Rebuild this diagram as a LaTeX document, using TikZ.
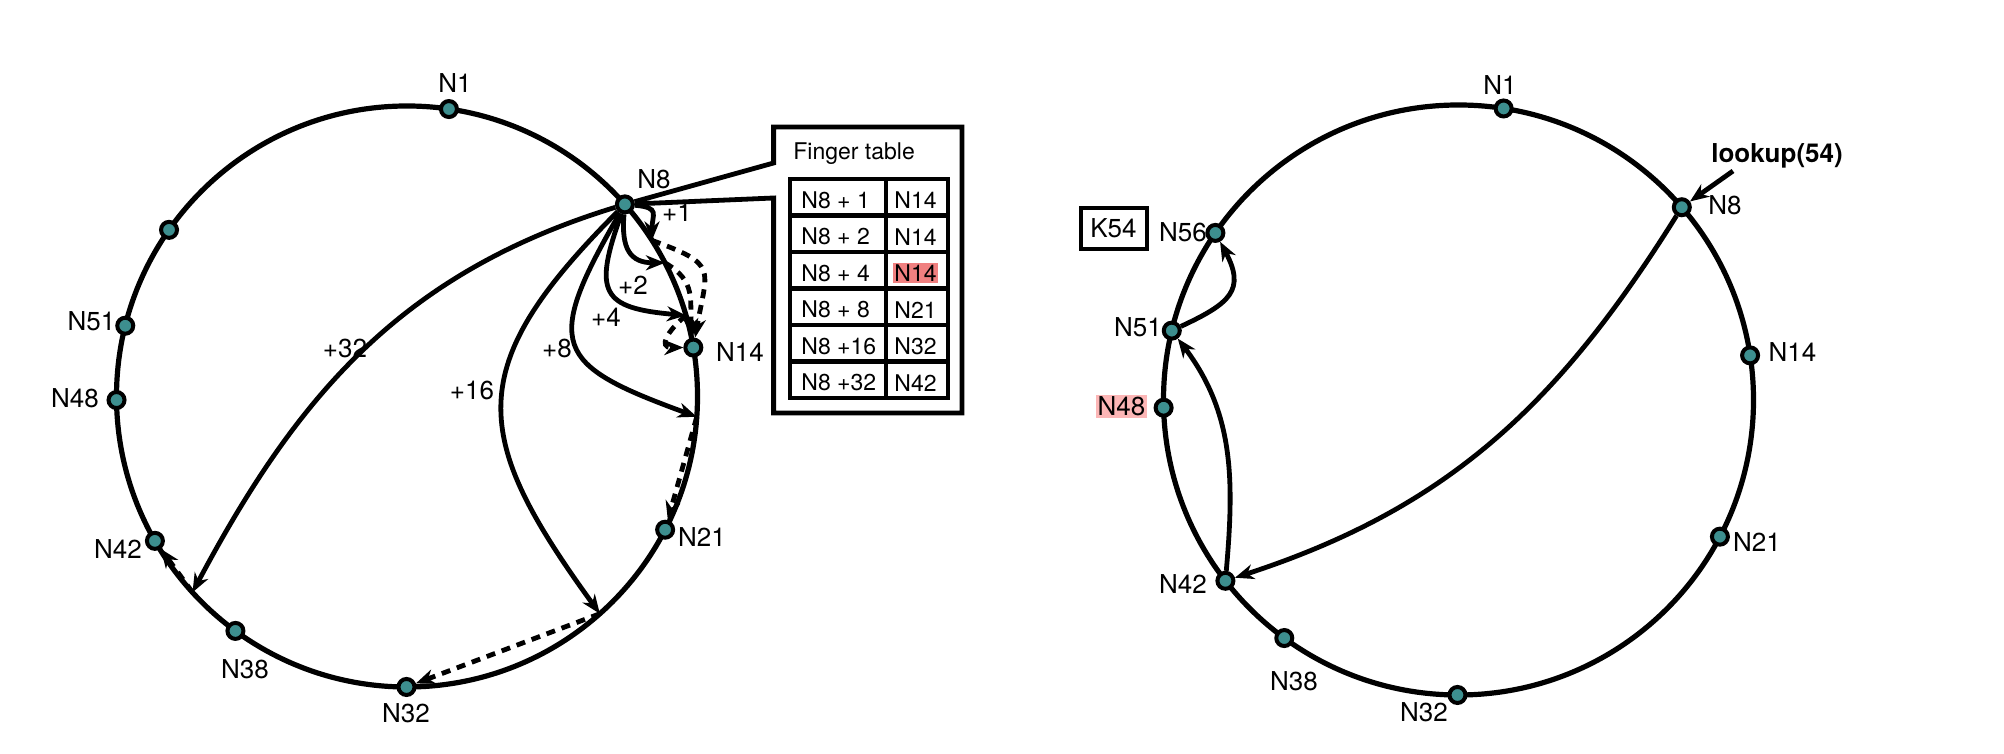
\documentclass[tikz,border=0pt]{standalone}
\usepackage{fontspec}
\setmainfont{TeX Gyre Heros}
\usetikzlibrary{arrows.meta}

\definecolor{peerteal}{RGB}{61,143,143}
\definecolor{hlred}{RGB}{240,128,128}
\definecolor{hlpink}{RGB}{252,182,182}

\tikzset{
  ring/.style={line width=2.6pt},
  peer/.style={circle, draw, line width=2pt, fill=peerteal, minimum size=8pt, inner sep=0pt},
  finger/.style={->, line width=2.4pt},
  succ/.style={->, line width=2.4pt, dash pattern=on 4.5pt off 3.5pt},
  lbl/.style={font=\fontsize{13}{15}\selectfont, inner sep=1pt},
  cell/.style={font=\fontsize{11.5}{13}\selectfont, anchor=west, inner sep=0pt},
  tbl/.style={line width=2.4pt}
}

\begin{document}
\begin{tikzpicture}[x=0.5pt, y=0.5pt, >={Stealth[length=9.5pt,width=7.5pt,inset=3pt]}]
  \useasboundingbox (0,0) rectangle (2004,754);

  % Left ring
  \draw[ring] (407,357.5) circle (290.5);
  \begin{scope}[shift={(407,357.5)}]
    \node[peer] (L1) at (81.7:290.5) {};
    \node[peer] (L8) at (41.4:290.5) {};
    \node[peer] (L14) at (9.7:290.5) {};
    \node[peer] (L21) at (-27.3:290.5) {};
    \node[peer] (L32) at (-90.1:290.5) {};
    \node[peer] (L38) at (233.8:290.5) {};
    \node[peer] (L42) at (209.8:290.5) {};
    \node[peer] (L48) at (180.7:290.5) {};
    \node[peer] (L51) at (165.9:290.5) {};
    \node[peer] (L56) at (145:290.5) {};
    % finger targets on the ring
    \coordinate (f1) at (32.5:290.5);
    \coordinate (f2) at (27.4:290.5);
    \coordinate (f4) at (16.2:290.5);
    \coordinate (f8) at (-4:290.5);
    \coordinate (f16) at (-48.4:290.5);
    \coordinate (f32) at (222.4:290.5);
  \end{scope}

  % Left labels
  \node[lbl] (tL1) at (455,671) {N1};
  \node[lbl] (tL8) at (654,575) {N8};
  \node[lbl] (tL14) at (740,401.5) {N14};
  \node[lbl] (tL21) at (702,217) {N21};
  \node[lbl] (tL32) at (406,41) {N32};
  \node[lbl] (tL38) at (245,85) {N38};
  \node[lbl] (tL42) at (118,204.5) {N42};
  \node[lbl] (tL48) at (75,356) {N48};
  \node[lbl] (tL51) at (91.5,432.5) {N51};

  % Fingers of N8
  \draw[finger] (L8) to[out=-5, in=90, looseness=1.7] (f1);
  \draw[finger] (L8) to[out=265, in=180, looseness=1.4] (f2);
  \draw[finger] (L8) to[out=250, in=175, looseness=1.8] (f4);
  \draw[finger] (L8) to[out=240, in=160, looseness=1.8] (f8);
  \draw[finger] (L8) to[out=225, in=126, looseness=1.4] (f16);
  \draw[finger] (L8) to[out=197, in=62] (f32);
  \node[lbl] (p1) at (677,542) {+1};
  \node[lbl] (p2) at (633,469) {+2};
  \node[lbl] (p4) at (606,437) {+4};
  \node[lbl] (p8) at (557,406) {+8};
  \node[lbl] (p16) at (472,363.5) {+16};
  \node[lbl] (p32) at (345,406) {+32};

  % Successors
  \draw[succ] (f1) to[out=-20, in=80, looseness=1.7] (L14);
  \draw[succ] (f2) to[out=-30, in=95, looseness=1.2] (L14);
  \draw[succ] (f4) to[out=220, in=180, looseness=2] (L14);
  \draw[succ] (f8) -- (L21);
  \draw[succ] (f16) -- (L32);
  \draw[succ] (f32) -- (L42);

  % Finger table
  \draw[tbl] (L8) -- (773.6,591) |- (962,627) |- (773.6,341) -- (773.6,556) -- (L8);
  \node[cell] (fthead) at (793,600) {Finger table};
  \draw[tbl] (790,356) rectangle (948,575);
  \draw[tbl] (886,356) -- (886,575);
  \draw[tbl] (790,538.5) -- (948,538.5);
  \draw[tbl] (790,502) -- (948,502);
  \draw[tbl] (790,465.5) -- (948,465.5);
  \draw[tbl] (790,429) -- (948,429);
  \draw[tbl] (790,392.5) -- (948,392.5);
  \node[cell] (c11) at (801,553.75) {N8 + 1};
  \node[cell] (c12) at (894,553.75) {N14};
  \node[cell] (c21) at (801,517.25) {N8 + 2};
  \node[cell] (c22) at (894,517.25) {N14};
  \node[cell] (c31) at (801,480.75) {N8 + 4};
  \node[cell, fill=hlred, inner sep=0.8pt] (c32) at (892.4,480.75) {N14};
  \node[cell] (c41) at (801,444.25) {N8 + 8};
  \node[cell] (c42) at (894,444.25) {N21};
  \node[cell] (c51) at (801,407.75) {N8 +16};
  \node[cell] (c52) at (894,407.75) {N32};
  \node[cell] (c61) at (801,371.25) {N8 +32};
  \node[cell] (c62) at (894,371.25) {N42};

  % Right ring
  \draw[ring] (1458.5,354) circle (295);
  \begin{scope}[shift={(1458.5,354)}]
    \node[peer] (R1) at (81.2:295) {};
    \node[peer] (R8) at (40.8:295) {};
    \node[peer] (R14) at (8.7:295) {};
    \node[peer] (R21) at (-27.6:295) {};
    \node[peer] (R32) at (-90.2:295) {};
    \node[peer] (R38) at (233.8:295) {};
    \node[peer] (R42) at (217.8:295) {};
    \node[peer] (R48) at (181.5:295) {};
    \node[peer] (R51) at (166.4:295) {};
    \node[peer] (R56) at (145.5:295) {};
  \end{scope}

  % Right labels
  \node[lbl] (tR1) at (1500,669) {N1};
  \node[lbl] (tR8) at (1725,549) {N8};
  \node[lbl] (tR14) at (1792.5,401.5) {N14};
  \node[lbl] (tR21) at (1757,212) {N21};
  \node[lbl] (tR32) at (1424,42) {N32};
  \node[lbl] (tR38) at (1294,73) {N38};
  \node[lbl] (tR42) at (1183,170) {N42};
  \node[lbl, fill=hlpink] (tR48) at (1121.5,347.5) {N48};
  \node[lbl] (tR51) at (1138,427) {N51};
  \node[lbl] (tR56) at (1183,522) {N56};
  \node[lbl, draw, line width=2pt, minimum width=33pt, minimum height=20.5pt] (k54) at (1113.5,525.5) {K54};

  % Lookup path
  \coordinate (lk) at (1733,583);
  \node[lbl, font=\fontsize{13}{15}\selectfont\bfseries] (lookup) at (1777,598) {lookup(54)};
  \draw[finger] (lk) -- (R8);
  \draw[finger] (R8) to[out=238, in=18] (R42);
  \draw[finger] (R42) to[out=85, in=307] (R51);
  \draw[finger] (R51) to[out=25, in=298, looseness=1.5] (R56);
\end{tikzpicture}
\end{document}
